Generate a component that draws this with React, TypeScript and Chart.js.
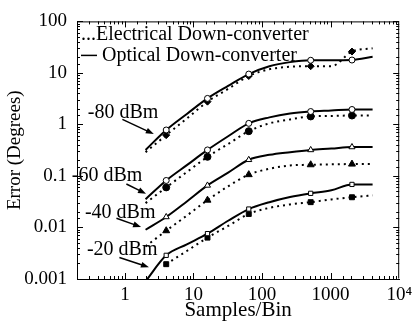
import React, { useEffect, useRef } from "react";
import { Chart, registerables } from "chart.js";

Chart.register(...registerables);

const samples = [2, 4, 8, 16, 32, 64, 128, 256, 512, 1024, 2048, 4096];
const markerSamples = [4, 16, 64, 512, 2048];

const optical80 = [0.32, 0.78, 1.6, 3.2, 5.6, 9.5, 13.5, 16.2, 17.6, 17.6, 17.8, 20.5];
const electrical80 = [0.29, 0.62, 1.3, 2.77, 4.9, 8.7, 11.8, 13.2, 13.5, 13.5, 26, 30];
const optical60 = [0.0354, 0.0817, 0.162, 0.32, 0.59, 1.05, 1.37, 1.63, 1.78, 1.86, 1.95, 1.95];
const electrical60 = [0.0297, 0.06, 0.119, 0.235, 0.417, 0.74, 1.05, 1.25, 1.43, 1.46, 1.49, 1.49];
const optical40 = [0.00904, 0.016, 0.032, 0.0655, 0.116, 0.206, 0.257, 0.29, 0.32, 0.34, 0.365, 0.365];
const electrical40 = [0.0043, 0.00865, 0.017, 0.0339, 0.063, 0.106, 0.138, 0.16, 0.165, 0.168, 0.17, 0.17];
const optical20 = [0.0009, 0.00288, 0.0047, 0.0076, 0.0135, 0.0228, 0.031, 0.039, 0.046, 0.0526, 0.0685, 0.0685];
const electrical20 = [null, 0.00194, 0.0035, 0.00635, 0.0107, 0.0183, 0.024, 0.028, 0.031, 0.035, 0.0386, 0.042];

const xTickLabels: Record<number, string> = { 1: "1", 10: "10", 100: "100", 1000: "1000", 10000: "10\u2074" };
const yTickLabels: Record<number, string> = { 0.001: "0.001", 0.01: "0.01", 0.1: "0.1", 1: "1", 10: "10", 100: "100" };

const legendLabels = ["...Electrical Down-converter", "Optical Down-converter"];

// annotation labels with text anchor and arrow (tail -> tip) in data coordinates
const annotLabels = ["-80 dBm", "-60 dBm", "-40 dBm", "-20 dBm"];
const annotTextX = [0.288, 0.168, 0.261, 0.279];
const annotTextY = [1.71, 0.099, 0.0196, 0.00372];
const arrowTailX = [0.918, 1.05, 0.752, 0.831];
const arrowTailY = [1.256, 0.0698, 0.0151, 0.00262];
const arrowTipX = [2.64, 2.03, 1.72, 2.24];
const arrowTipY = [0.651, 0.0451, 0.0102, 0.00169];

const SERIF = "'Liberation Serif', 'Times New Roman', serif";

function isPow10(v: number) {
  const l = Math.log10(v);
  return Math.abs(l - Math.round(l)) < 1e-9;
}

const makeData = (vals: (number | null)[]) => samples.map((s, i) => ({ x: s, y: vals[i] }));
const radii = (r: number) => samples.map((s) => (markerSamples.includes(s) ? r : 0));

export default function App() {
  const ref = useRef<HTMLCanvasElement>(null);

  useEffect(() => {
    if (!ref.current) return;

    const optical = (vals: (number | null)[], style: string) => ({
      data: makeData(vals),
      borderColor: "#000",
      borderWidth: 2,
      pointStyle: style,
      pointRadius: radii(style === "triangle" ? 3.5 : 3),
      pointBackgroundColor: "#fff",
      pointBorderColor: "#000",
      pointBorderWidth: 1,
      cubicInterpolationMode: "monotone" as const,
      spanGaps: true,
    });
    const electrical = (vals: (number | null)[], style: string) => ({
      data: makeData(vals),
      borderColor: "#000",
      borderWidth: 2,
      borderDash: [2, 4],
      pointStyle: style,
      pointRadius: radii(style === "triangle" ? 4 : 3.5),
      pointBackgroundColor: "#000",
      pointBorderColor: "#000",
      pointBorderWidth: 1,
      cubicInterpolationMode: "monotone" as const,
      spanGaps: true,
    });

    const decorPlugin = {
      id: "decor",
      afterDraw(chart: any) {
        const { ctx, chartArea, scales } = chart;
        const { left, right, top, bottom } = chartArea;
        const xs = scales.x;
        const ys = scales.y;
        ctx.save();
        ctx.strokeStyle = "#000";
        ctx.lineWidth = 1;
        // frame
        ctx.beginPath();
        ctx.moveTo(left + 0.5, top + 0.5);
        ctx.lineTo(right - 0.5, top + 0.5);
        ctx.lineTo(right - 0.5, bottom - 0.5);
        ctx.stroke();
        // ticks
        ctx.beginPath();
        xs.ticks.forEach((t: any) => {
          const px = Math.round(xs.getPixelForValue(t.value)) + 0.5;
          if (px < left || px > right) return;
          const len = isPow10(t.value) ? 6 : 3;
          ctx.moveTo(px, bottom);
          ctx.lineTo(px, bottom - len);
          ctx.moveTo(px, top);
          ctx.lineTo(px, top + len);
        });
        ys.ticks.forEach((t: any) => {
          const py = Math.round(ys.getPixelForValue(t.value)) + 0.5;
          if (py < top - 1 || py > bottom + 1) return;
          const len = isPow10(t.value) ? 6 : 3;
          ctx.moveTo(left, py);
          ctx.lineTo(left + len, py);
          ctx.moveTo(right, py);
          ctx.lineTo(right - len, py);
        });
        ctx.stroke();

        // legend
        ctx.fillStyle = "#000";
        ctx.font = `20px ${SERIF}`;
        ctx.textBaseline = "middle";
        ctx.textAlign = "left";
        ctx.fillText(legendLabels[0], left + 4, top + 13);
        ctx.lineWidth = 1.5;
        ctx.beginPath();
        ctx.moveTo(left + 4, top + 34);
        ctx.lineTo(left + 20, top + 34);
        ctx.stroke();
        ctx.fillText(legendLabels[1], left + 25, top + 34);

        // annotations
        annotLabels.forEach((lab, i) => {
          const tx = xs.getPixelForValue(annotTextX[i]);
          const ty = ys.getPixelForValue(annotTextY[i]);
          ctx.fillText(lab, tx, ty);
          const ax = xs.getPixelForValue(arrowTailX[i]);
          const ay = ys.getPixelForValue(arrowTailY[i]);
          const bx = xs.getPixelForValue(arrowTipX[i]);
          const by = ys.getPixelForValue(arrowTipY[i]);
          const ang = Math.atan2(by - ay, bx - ax);
          const hl = 8;
          ctx.lineWidth = 1.5;
          ctx.beginPath();
          ctx.moveTo(ax, ay);
          ctx.lineTo(bx - Math.cos(ang) * hl * 0.8, by - Math.sin(ang) * hl * 0.8);
          ctx.stroke();
          ctx.beginPath();
          ctx.moveTo(bx, by);
          ctx.lineTo(bx - hl * Math.cos(ang) + 3 * Math.sin(ang), by - hl * Math.sin(ang) - 3 * Math.cos(ang));
          ctx.lineTo(bx - hl * Math.cos(ang) - 3 * Math.sin(ang), by - hl * Math.sin(ang) + 3 * Math.cos(ang));
          ctx.closePath();
          ctx.fill();
        });
        ctx.restore();
      },
    };

    const chart = new Chart(ref.current, {
      type: "line",
      data: {
        datasets: [
          optical(optical80, "circle"),
          electrical(electrical80, "rectRot"),
          optical(optical60, "circle"),
          electrical(electrical60, "circle"),
          optical(optical40, "triangle"),
          electrical(electrical40, "triangle"),
          optical(optical20, "rect"),
          electrical(electrical20, "rect"),
        ] as any,
      },
      options: {
        responsive: false,
        animation: false,
        layout: { padding: { top: 17, right: 13, left: 0, bottom: 0 }, autoPadding: false } as any,
        plugins: { legend: { display: false }, tooltip: { enabled: false } },
        scales: {
          x: {
            type: "logarithmic",
            min: 0.2,
            max: 10000,
            afterFit: (s: any) => {
              s.height = 45;
            },
            border: { display: true, color: "#000", width: 1 },
            grid: { display: false, drawTicks: false },
            ticks: {
              autoSkip: false,
              maxRotation: 0,
              padding: 5,
              color: "#000",
              font: { family: SERIF, size: 19 },
              callback: (v: any) => {
                const n = Number(v);
                return isPow10(n) && xTickLabels[Math.round(n)] ? xTickLabels[Math.round(n)] : "";
              },
            },
            title: {
              display: true,
              text: "Samples/Bin",
              color: "#000",
              font: { family: SERIF, size: 21 },
              padding: { top: 0, bottom: 1 },
            },
          },
          y: {
            type: "logarithmic",
            min: 0.001,
            max: 100,
            afterFit: (s: any) => {
              s.width = 77;
            },
            border: { display: true, color: "#000", width: 1 },
            grid: { display: false, drawTicks: false },
            ticks: {
              autoSkip: false,
              padding: 10,
              color: "#000",
              font: { family: SERIF, size: 19 },
              callback: (v: any) => {
                const n = Number(v);
                if (!isPow10(n)) return "";
                const k = Object.keys(yTickLabels).find((key) => Math.abs(Number(key) - n) / n < 1e-6);
                return k ? yTickLabels[Number(k)] : "";
              },
            },
            title: {
              display: true,
              text: "Error (Degrees)",
              color: "#000",
              font: { family: SERIF, size: 19 },
              padding: { top: 4, bottom: 0 },
            },
          },
        },
      } as any,
      plugins: [decorPlugin],
    });
    return () => chart.destroy();
  }, []);

  return (
    <div style={{ position: "absolute", left: 0, top: 0, width: 417, height: 324, background: "#fff" }}>
      <canvas ref={ref} width={417} height={324} />
    </div>
  );
}
